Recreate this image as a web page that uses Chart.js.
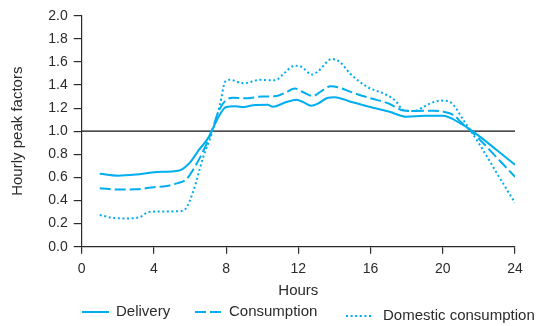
<!DOCTYPE html>
<html>
<head>
<meta charset="utf-8">
<script src="https://cdn.jsdelivr.net/npm/chart.js@4.4.1/dist/chart.umd.min.js"></script>
<style>
  html, body { margin: 0; padding: 0; background: #fff; }
  #wrap { width: 540px; height: 326px; position: relative; }
</style>
</head>
<body>
<div id="wrap"><canvas id="chart" width="540" height="326"></canvas></div>
<script>
// Hourly peak factors over the day
const deliveryHours  = [1, 2, 3, 4, 5, 5.5, 6, 6.5, 7, 7.5, 8, 8.5, 9, 9.5, 10.3, 10.6, 11.3, 11.9, 12.3, 12.7, 13.1, 13.6, 14, 15, 16, 17, 18, 19, 20, 21, 22, 23, 24];
const deliveryValues = [0.632, 0.615, 0.625, 0.645, 0.652, 0.665, 0.73, 0.84, 0.94, 1.10, 1.21, 1.215, 1.21, 1.225, 1.228, 1.212, 1.25, 1.272, 1.25, 1.22, 1.24, 1.288, 1.295, 1.25, 1.21, 1.17, 1.125, 1.133, 1.133, 1.065, 0.96, 0.835, 0.71];

const consumptionHours  = [1, 2, 3, 4, 4.7, 5.3, 5.8, 6.3, 6.8, 7.2, 7.6, 8, 8.4, 9, 10, 10.8, 11.3, 11.8, 12.3, 12.8, 13.3, 13.8, 14.2, 15, 16, 17, 17.8, 18.5, 19.5, 20, 20.6, 21, 22, 23, 24];
const consumptionValues = [0.505, 0.495, 0.497, 0.515, 0.525, 0.55, 0.585, 0.70, 0.85, 1.0, 1.18, 1.27, 1.29, 1.285, 1.30, 1.305, 1.335, 1.37, 1.335, 1.305, 1.35, 1.39, 1.38, 1.335, 1.285, 1.24, 1.18, 1.175, 1.178, 1.17, 1.14, 1.08, 0.935, 0.77, 0.605];

const domesticHours  = [1, 1.7, 2.5, 3.2, 3.7, 4.5, 5.3, 5.7, 6.2, 6.7, 7.25, 7.66, 7.95, 8.2, 8.95, 9.9, 10.5, 10.8, 11.2, 11.8, 12.2, 12.74, 13.1, 13.85, 14.3, 14.86, 15.8, 16.9, 17.4, 17.8, 18.4, 19.2, 19.85, 20.3, 20.6, 21.14, 22, 23, 24];
const domesticValues = [0.275, 0.25, 0.245, 0.255, 0.30, 0.305, 0.306, 0.32, 0.49, 0.76, 1.0, 1.23, 1.43, 1.445, 1.415, 1.445, 1.44, 1.445, 1.50, 1.567, 1.555, 1.49, 1.52, 1.625, 1.60, 1.50, 1.385, 1.313, 1.26, 1.185, 1.175, 1.233, 1.265, 1.26, 1.227, 1.097, 0.895, 0.635, 0.38];

const referenceHours  = [0, 24];
const referenceValues = [1.0, 1.0];

const hourTicks   = [0, 4, 8, 12, 16, 20, 24];
const factorTicks = ['0.0', '0.2', '0.4', '0.6', '0.8', '1.0', '1.2', '1.4', '1.6', '1.8', '2.0'];

const seriesNames = ['Delivery', 'Consumption', 'Domestic consumption'];

const CYAN = '#00aeef';
const INK = '#2b2b2b';
const DASH = [11, 4];
const DOT = [2, 2.6];
const FONT = '"Liberation Sans", Arial, sans-serif';

const toPoints = (xs, ys) => xs.map((x, i) => ({ x: x, y: ys[i] }));

// Legend drawn under the axis title, one sample line per series
const legendPlugin = {
  id: 'lineLegend',
  afterDraw(chart) {
    const ctx = chart.ctx;
    const items = [
      { x: 82,  y: 312, dash: [],   text: seriesNames[0], tx: 116 },
      { x: 195, y: 312, dash: DASH, text: seriesNames[1], tx: 229 },
      { x: 346, y: 316, dash: DOT,  text: seriesNames[2], tx: 383 }
    ];
    ctx.save();
    items.forEach(it => {
      ctx.beginPath();
      ctx.setLineDash(it.dash);
      ctx.strokeStyle = CYAN;
      ctx.lineWidth = 2;
      ctx.moveTo(it.x, it.y);
      ctx.lineTo(it.x + 27, it.y);
      ctx.stroke();
      ctx.setLineDash([]);
      ctx.fillStyle = INK;
      ctx.font = '15px ' + FONT;
      ctx.textBaseline = 'middle';
      ctx.textAlign = 'left';
      ctx.fillText(it.text, it.tx, it.y);
    });
    ctx.restore();
  }
};

const lineStyle = {
  borderColor: CYAN,
  backgroundColor: CYAN,
  borderWidth: 2,
  pointRadius: 0,
  fill: false,
  cubicInterpolationMode: 'monotone'
};

new Chart(document.getElementById('chart'), {
  type: 'line',
  data: {
    datasets: [
      Object.assign({ label: seriesNames[0], data: toPoints(deliveryHours, deliveryValues) }, lineStyle),
      Object.assign({ label: seriesNames[1], data: toPoints(consumptionHours, consumptionValues), borderDash: DASH }, lineStyle),
      Object.assign({ label: seriesNames[2], data: toPoints(domesticHours, domesticValues), borderDash: DOT }, lineStyle),
      { label: 'Reference', data: toPoints(referenceHours, referenceValues), borderColor: '#111', borderWidth: 1.2, pointRadius: 0, fill: false }
    ]
  },
  options: {
    responsive: false,
    animation: false,
    layout: { padding: { left: 0, right: 25, top: 15.7, bottom: 0 } },
    plugins: {
      legend: { display: false },
      tooltip: { enabled: false }
    },
    scales: {
      x: {
        type: 'linear',
        min: 0,
        max: 24,
        afterBuildTicks: s => { s.ticks = hourTicks.map(v => ({ value: v })); },
        afterFit: s => { s.height = 79.3; },
        border: { display: true, color: INK, width: 1.2 },
        grid: { drawOnChartArea: false, drawTicks: true, tickLength: 7, color: INK, lineWidth: 1.2 },
        ticks: {
          color: INK,
          padding: 7,
          maxRotation: 0,
          font: { size: 14, family: FONT },
          callback: v => String(v)
        },
        title: {
          display: true,
          text: 'Hours',
          color: INK,
          padding: { top: 0, bottom: 26 },
          font: { size: 15, family: FONT }
        }
      },
      y: {
        type: 'linear',
        min: 0,
        max: 2,
        afterBuildTicks: s => { s.ticks = factorTicks.map(t => ({ value: parseFloat(t) })); },
        afterFit: s => { s.width = 81.7; },
        border: { display: true, color: INK, width: 1.2 },
        grid: { drawOnChartArea: false, drawTicks: true, tickLength: 8, color: INK, lineWidth: 1.2 },
        ticks: {
          color: INK,
          padding: 6,
          font: { size: 14, family: FONT },
          callback: (v, i) => factorTicks[i]
        },
        title: {
          display: true,
          text: 'Hourly peak factors',
          color: INK,
          padding: { top: 9, bottom: 0 },
          font: { size: 15, family: FONT }
        }
      }
    }
  },
  plugins: [legendPlugin]
});
</script>
</body>
</html>
